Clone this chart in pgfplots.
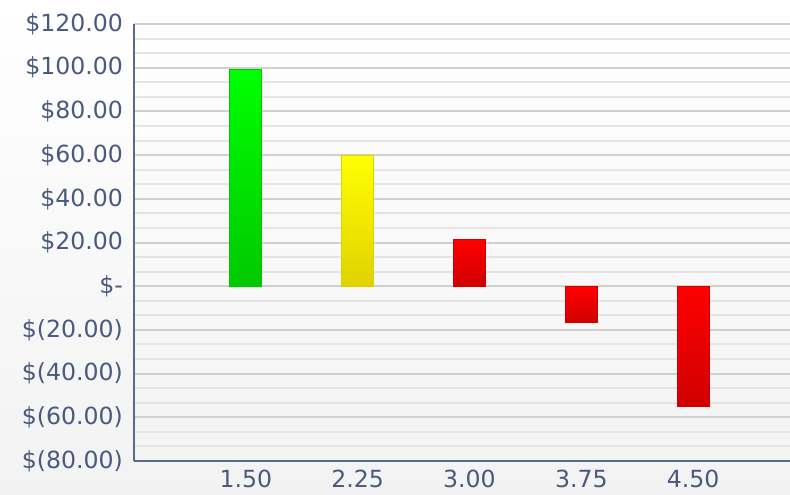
\documentclass[border=0pt]{standalone}
\usepackage{fontspec}
\setmainfont{DejaVu Sans}
\usepackage{pgfplots}
\pgfplotsset{compat=1.18}
\definecolor{axisc}{HTML}{5A6A8A}
\definecolor{textc}{HTML}{4A5A7E}
\definecolor{majgrid}{HTML}{D0D0D0}
\definecolor{mingrid}{HTML}{E4E4E4}
\definecolor{grn}{RGB}{0,255,0}
\definecolor{grnd}{RGB}{0,200,0}
\definecolor{yel}{RGB}{255,255,0}
\definecolor{yeld}{RGB}{224,210,0}
\definecolor{rd}{RGB}{255,0,0}
\definecolor{rdd}{RGB}{208,0,0}
\begin{document}
\begin{tikzpicture}
  % fixed page: 790x494 px at 0.5pt per px
  \path[use as bounding box, top color=white, middle color=white, bottom color=black!5, draw=none]
    (-67pt,-16.5pt) rectangle (328pt,230.5pt);
  \begin{axis}[
      at={(0,0)}, anchor=south west,
      width=328pt, height=218.5pt, scale only axis,
      xmin=0.75, xmax=5.15, ymin=-80, ymax=120,
      axis lines=left,
      axis line style={-, color=axisc, line width=1pt},
      xtick={1.5,2.25,3,3.75,4.5},
      xticklabels={1.50,2.25,3.00,3.75,4.50},
      ytick={-80,-60,...,120},
      yticklabels={\$(80.00),\$(60.00),\$(40.00),\$(20.00),\$-,\$20.00,\$40.00,\$60.00,\$80.00,\$100.00,\$120.00},
      minor y tick num=2,
      major tick length=0pt, minor tick length=0pt,
      ymajorgrids, yminorgrids,
      major grid style={majgrid, line width=1pt},
      minor grid style={mingrid, line width=1pt},
      ticklabel style={font=\fontsize{11.8}{14}\selectfont, text=textc},
      yticklabel style={xshift=-2pt},
      xticklabel style={yshift=-1pt},
      ybar, bar width=16pt, bar shift=0pt,
    ]
    \addplot[draw=grnd, line width=0.4pt, top color=grn, middle color=grn, bottom color=grnd]
      coordinates {(1.5,99)};
    \addplot[draw=yeld, line width=0.4pt, top color=yel, middle color=yel, bottom color=yeld]
      coordinates {(2.25,60)};
    \addplot[draw=rdd, line width=0.4pt, top color=rd, middle color=rd, bottom color=rdd]
      coordinates {(3,21.5)};
    \addplot[draw=rdd, line width=0.4pt, top color=rd, middle color=rd, bottom color=rdd]
      coordinates {(3.75,-16.5)};
    \addplot[draw=rdd, line width=0.4pt, top color=rd, middle color=rd, bottom color=rdd]
      coordinates {(4.5,-55)};
  \end{axis}
\end{tikzpicture}
\end{document}
